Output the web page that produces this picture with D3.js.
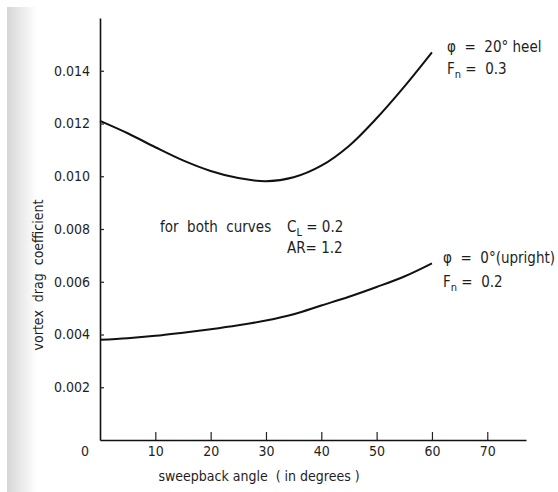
<!DOCTYPE html>
<html>
<head>
<meta charset="utf-8">
<script src="https://cdn.jsdelivr.net/npm/d3@7"></script>
<style>
  body { margin: 0; background: #fff; }
  svg text { font-family: "DejaVu Sans Condensed", "DejaVu Sans", sans-serif; fill: #1e1e1e; white-space: pre; }
</style>
</head>
<body>
<svg width="558" height="492"></svg>
<script>
// sweepback angle (degrees)
var angles = [0, 5, 10, 15, 20, 25, 30, 35, 40, 45, 50, 55, 60];
// phi = 20 deg heel, Fn = 0.3
var heel20 = [0.0121, 0.01163, 0.0111, 0.0106, 0.0102, 0.00993, 0.00981, 0.00996, 0.0104, 0.01115, 0.0122, 0.0134, 0.0147];
// phi = 0 deg upright, Fn = 0.2
var upright = [0.0038, 0.00386, 0.00395, 0.00407, 0.0042, 0.00435, 0.00453, 0.00477, 0.0051, 0.00543, 0.0058, 0.0062, 0.0067];

var xTicks = [10, 20, 30, 40, 50, 60, 70];
var yTicks = [0.002, 0.004, 0.006, 0.008, 0.010, 0.012, 0.014];

var svg = d3.select('svg');

// scan shadow on the left edge
var grad = svg.append('defs').append('linearGradient').attr('id', 'shade');
grad.append('stop').attr('offset', '0%').attr('stop-color', '#d6d6d6');
grad.append('stop').attr('offset', '100%').attr('stop-color', '#ffffff');
svg.append('rect').attr('x', 7).attr('y', 7).attr('width', 30).attr('height', 485)
  .attr('fill', 'url(#shade)');

var x = d3.scaleLinear().domain([0, 77]).range([100, 526]);
var y = d3.scaleLinear().domain([0, 0.016]).range([440, 18]);

var xAxis = svg.append('g')
  .attr('transform', 'translate(0,' + y(0) + ')')
  .call(d3.axisBottom(x).tickValues(xTicks).tickSizeInner(-8).tickSizeOuter(0).tickPadding(6));
var yAxis = svg.append('g')
  .attr('transform', 'translate(' + x(0) + ',0)')
  .call(d3.axisLeft(y).tickValues(yTicks).tickFormat(d3.format('.3f'))
    .tickSizeInner(-4).tickSizeOuter(0).tickPadding(10));

[xAxis, yAxis].forEach(function(g) {
  g.select('.domain').attr('stroke', '#111').attr('stroke-width', 1.6);
  g.selectAll('.tick line').attr('stroke', '#222').attr('stroke-width', 1.2);
  g.selectAll('.tick text').style('font-size', '14px').attr('fill', '#1e1e1e');
});

svg.append('text').attr('x', 85).attr('y', 456).attr('text-anchor', 'middle')
  .style('font-size', '14px').text('0');

svg.append('text').attr('x', 259).attr('y', 481).attr('text-anchor', 'middle')
  .style('font-size', '14px').text('sweepback angle  ( in degrees )');

svg.append('text').attr('transform', 'translate(43,275) rotate(-90)')
  .attr('text-anchor', 'middle').style('font-size', '14px').text('vortex  drag  coefficient');

var line = d3.line()
  .x(function(d) { return x(d[0]); })
  .y(function(d) { return y(d[1]); })
  .curve(d3.curveCatmullRom);

[heel20, upright].forEach(function(vals) {
  svg.append('path')
    .datum(angles.map(function(a, i) { return [a, vals[i]]; }))
    .attr('d', line)
    .attr('fill', 'none')
    .attr('stroke', '#111')
    .attr('stroke-width', 2);
});

// annotations
function label(px, py, parts) {
  var t = svg.append('text').attr('x', px).attr('y', py).style('font-size', '15px');
  parts.forEach(function(p) {
    var s = t.append('tspan').text(p[0]);
    if (p[1] === 'sub') s.attr('dy', 4).style('font-size', '11px');
    if (p[1] === 'up') s.attr('dy', -4);
  });
  return t;
}
label(447, 52, [['φ  =  20° heel']]);
label(447, 74, [['F'], ['n', 'sub'], [' ', 'up'], ['=  0.3']]);
label(443, 263, [['φ  =  0°(upright)']]);
label(443, 287, [['F'], ['n', 'sub'], [' ', 'up'], ['=  0.2']]);
label(160, 232, [['for  both  curves']]);
label(287, 232, [['C'], ['L', 'sub'], [' ', 'up'], ['= 0.2']]);
label(287, 253, [['AR= 1.2']]);
</script>
</body>
</html>
